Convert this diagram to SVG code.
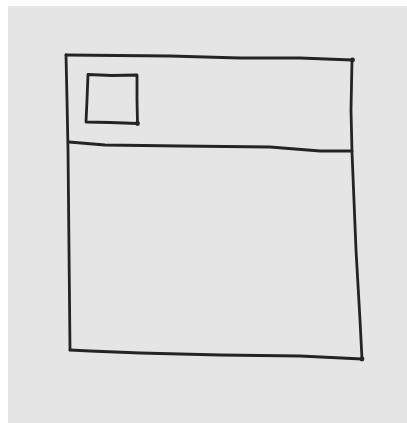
<svg xmlns="http://www.w3.org/2000/svg" width="407" height="423" viewBox="0 0 407 423">
<style>
.ink{fill:none;stroke:#242424;stroke-width:2.8;stroke-linecap:round;stroke-linejoin:round}
.dot{fill:#242424}
</style>
<rect x="0" y="0" width="407" height="423" fill="#ffffff"/>
<rect x="8" y="6" width="399" height="417" fill="#e5e5e5"/>
<g id="outer">
<path class="ink" d="M66,55 L170,56 L240,58 L300,58 L352,60"/>
<path class="ink" d="M352,60 L351,110 L352,152 L356,250 L360,320 L362,359"/>
<path class="ink" d="M362,359 L300,356 L220,355 L140,353 L90,351 L70,350"/>
<path class="ink" d="M70,350 L69,250 L68,150 L67,100 L66,55"/>
<circle class="dot" cx="352.5" cy="60" r="2.4"/>
<circle class="dot" cx="362" cy="359" r="2.4"/>
</g>
<g id="divider">
<path class="ink" d="M69,142 L105,145 L180,146 L270,147 L320,151 L352,151"/>
</g>
<g id="small-square">
<path class="ink" d="M88,74.5 L112,75.5 L137,75 L137,100 L137.5,123.5 L110,122.5 L86,122 L87,100 Z"/>
<circle class="dot" cx="137.5" cy="123.5" r="2.4"/>
</g>
</svg>
